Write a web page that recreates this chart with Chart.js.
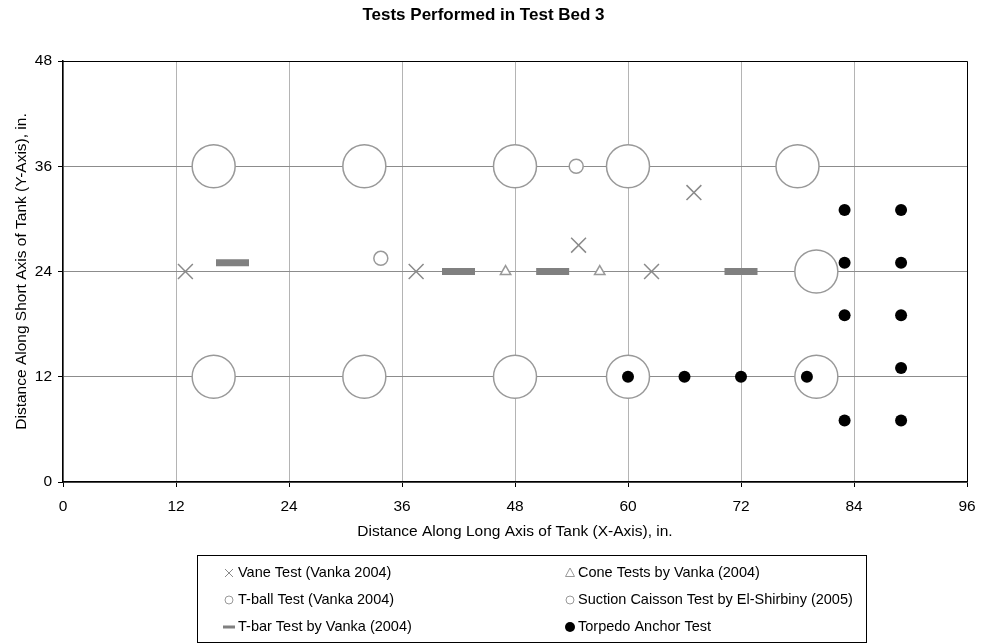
<!DOCTYPE html>
<html>
<head>
<meta charset="utf-8">
<title>Tests Performed in Test Bed 3</title>
<script src="https://cdn.jsdelivr.net/npm/chart.js@4.4.1/dist/chart.umd.min.js"></script>
<style>
  html, body { margin: 0; padding: 0; background: #fff; }
  #wrap { width: 981px; height: 644px; }
</style>
</head>
<body>
<div id="wrap"><canvas id="bedChart" width="981" height="644"></canvas></div>
<script>
// readings (inches)
const vaneX = [13, 37.5, 54.75, 62.5, 67];
const vaneY = [24, 24, 27, 24, 33];
const coneX = [47, 57];
const coneY = [24, 24];
const tballX = [33.75, 54.5];
const tballY = [25.5, 36];
const caissonX = [16, 32, 48, 60, 78, 80, 16, 32, 48, 60, 80];
const caissonY = [36, 36, 36, 36, 36, 24, 12, 12, 12, 12, 12];
const tbarX = [18, 42, 52, 72];
const tbarY = [25, 24, 24, 24];
const torpedoX = [60, 66, 72, 79, 83, 83, 83, 83, 89, 89, 89, 89, 89];
const torpedoY = [12, 12, 12, 12, 31, 25, 19, 7, 31, 25, 19, 13, 7];

const xTicks = [0, 12, 24, 36, 48, 60, 72, 84, 96];
const yTicks = [0, 12, 24, 36, 48];

const FONT = "'Liberation Sans', Arial, sans-serif";

function pts(xs, ys) {
  return xs.map((x, i) => ({ x: x, y: ys[i] }));
}

// legend is a boxed 2-column grid, drawn by hand
const boxLegend = {
  id: "boxLegend",
  afterDraw(chart) {
    const ctx = chart.ctx;
    const left = 197, top = 555, right = 866, bottom = 642;
    ctx.save();
    ctx.strokeStyle = "#000";
    ctx.lineWidth = 1;
    ctx.strokeRect(left + 0.5, top + 0.5, right - left, bottom - top);

    // plot frame (top / right)
    const a = chart.chartArea;
    ctx.beginPath();
    ctx.moveTo(a.left, a.top + 0.5);
    ctx.lineTo(a.right + 0.5, a.top + 0.5);
    ctx.lineTo(a.right + 0.5, a.bottom);
    ctx.stroke();

    ctx.font = "14.5px " + FONT;
    ctx.textBaseline = "middle";
    ctx.fillStyle = "#000";
    const colMark = [229, 570];
    const colText = [238, 578];
    const rows = [573, 600, 627];
    chart.data.datasets.forEach((ds, i) => {
      const c = i % 2, r = Math.floor(i / 2);
      const mx = colMark[c], my = rows[r];
      ctx.save();
      ctx.strokeStyle = ds.pointBorderColor;
      ctx.fillStyle = ds.pointBackgroundColor;
      ctx.lineWidth = 1;
      ctx.beginPath();
      if (ds.pointStyle === "crossRot") {
        ctx.moveTo(mx - 4, my - 4); ctx.lineTo(mx + 4, my + 4);
        ctx.moveTo(mx + 4, my - 4); ctx.lineTo(mx - 4, my + 4);
        ctx.stroke();
      } else if (ds.pointStyle === "triangle") {
        ctx.moveTo(mx, my - 5); ctx.lineTo(mx + 4.5, my + 3.5); ctx.lineTo(mx - 4.5, my + 3.5);
        ctx.closePath();
        ctx.stroke();
      } else if (ds.pointStyle === "line") {
        ctx.fillStyle = ds.pointBorderColor;
        ctx.fillRect(mx - 6, my - 1.5, 12, 3);
      } else if (ds.legendDot) {
        ctx.arc(mx, my, 5, 0, Math.PI * 2);
        ctx.fill();
      } else {
        ctx.arc(mx, my, 4, 0, Math.PI * 2);
        ctx.fill();
        ctx.stroke();
      }
      ctx.restore();
      ctx.fillText(ds.label, colText[c], my);
    });
    ctx.restore();
  }
};

const ctx = document.getElementById("bedChart").getContext("2d");

new Chart(ctx, {
  type: "scatter",
  data: {
    datasets: [
      {
        label: "Vane Test (Vanka 2004)",
        data: pts(vaneX, vaneY),
        pointStyle: "crossRot",
        pointRadius: 10.5,
        pointBorderWidth: 1.5,
        pointBorderColor: "#8a8a8a",
        pointBackgroundColor: "#8a8a8a"
      },
      {
        label: "Cone Tests by Vanka (2004)",
        data: pts(coneX, coneY),
        pointStyle: "triangle",
        pointRadius: 6,
        pointBorderWidth: 1.5,
        pointBorderColor: "#999999",
        pointBackgroundColor: "#ffffff"
      },
      {
        label: "T-ball Test (Vanka 2004)",
        data: pts(tballX, tballY),
        pointStyle: "circle",
        pointRadius: 7,
        pointBorderWidth: 1.5,
        pointBorderColor: "#999999",
        pointBackgroundColor: "#ffffff"
      },
      {
        label: "Suction Caisson Test by El-Shirbiny (2005)",
        data: pts(caissonX, caissonY),
        pointStyle: "circle",
        pointRadius: 21.5,
        pointBorderWidth: 1.5,
        pointBorderColor: "#999999",
        pointBackgroundColor: "#ffffff"
      },
      {
        label: "T-bar Test by Vanka (2004)",
        data: pts(tbarX, tbarY),
        pointStyle: "line",
        pointRadius: 16.5,
        pointBorderWidth: 7,
        pointBorderColor: "#808080",
        pointBackgroundColor: "#808080"
      },
      {
        label: "Torpedo Anchor Test",
        data: pts(torpedoX, torpedoY),
        pointStyle: "circle",
        pointRadius: 6,
        pointBorderWidth: 0,
        pointBorderColor: "#000000",
        pointBackgroundColor: "#000000",
        legendDot: true,
        order: -1
      }
    ]
  },
  options: {
    responsive: false,
    animation: false,
    events: [],
    layout: { autoPadding: false, padding: { left: 0, right: 14, top: 0, bottom: 100 } },
    plugins: {
      legend: { display: false },
      tooltip: { enabled: false },
      title: {
        display: true,
        text: "Tests Performed in Test Bed 3",
        color: "#000",
        font: { family: FONT, size: 17, weight: "bold" },
        padding: { top: 5, bottom: 35.6 }
      }
    },
    scales: {
      x: {
        type: "linear",
        min: 0,
        max: 96,
        afterFit: (s) => { s.height = 62; s.paddingLeft = 0; s.paddingRight = 0; },
        afterBuildTicks: (s) => { s.ticks = xTicks.map((v) => ({ value: v })); },
        ticks: { color: "#000", padding: 10, font: { family: FONT, size: 15.5 } },
        grid: { color: "#b4b4b4", tickColor: "#000", tickLength: 5 },
        border: { color: "#000", width: 1.5 },
        title: {
          display: true,
          text: "Distance Along Long Axis of Tank (X-Axis), in.",
          color: "#000",
          font: { family: FONT, size: 15.5 },
          padding: { top: 0, bottom: 3 }
        }
      },
      y: {
        type: "linear",
        min: 0,
        max: 48,
        afterFit: (s) => { s.width = 63; },
        afterBuildTicks: (s) => { s.ticks = yTicks.map((v) => ({ value: v })); },
        ticks: { color: "#000", padding: 6, font: { family: FONT, size: 15.5 } },
        grid: { color: "#8c8c8c", tickColor: "#000", tickLength: 5 },
        border: { color: "#000", width: 1.5 },
        title: {
          display: true,
          text: "Distance Along Short Axis of Tank (Y-Axis), in.",
          color: "#000",
          font: { family: FONT, size: 15.5 },
          padding: { top: 12, bottom: 0 }
        }
      }
    }
  },
  plugins: [boxLegend]
});
</script>
</body>
</html>
